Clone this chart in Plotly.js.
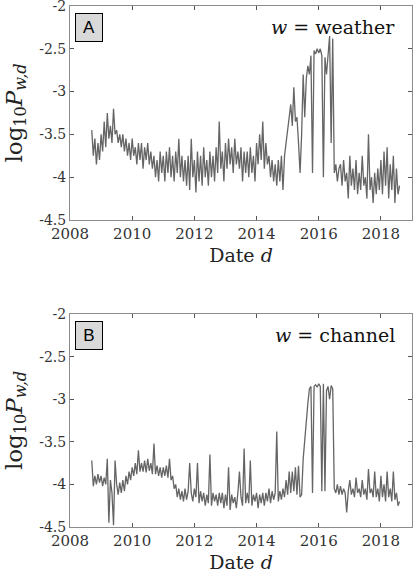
<!DOCTYPE html>
<html>
<head>
<meta charset="utf-8">
<script src="https://cdn.plot.ly/plotly-3.0.1.min.js"></script>
<style>
  html, body { margin: 0; padding: 0; background: #fff; }
  #plotArea { width: 415px; height: 580px; }
</style>
</head>
<body>
<div id="plotArea"></div>
<script>
// sampling grid: first sample (decimal year) and spacing between samples
var startYear = 2008.70;
var stepYear = 0.05;

// panel A, w = weather : log10 P values (alternating highs/lows)
var weatherVals = [
  -3.45, -3.75, -3.55, -3.85, -3.6, -3.8, -3.5, -3.7, -3.35, -3.65, -3.25, -3.55, -3.4, -3.6, -3.2, -3.5, -3.45, -3.6, -3.5, -3.65,
  -3.5, -3.7, -3.55, -3.75, -3.6, -3.8, -3.55, -3.75, -3.65, -3.85, -3.6, -3.8, -3.6, -3.9, -3.65, -3.8, -3.6, -3.85, -3.7, -3.9,
  -3.75, -4.0, -3.8, -4.05, -3.7, -3.95, -3.75, -4.05, -3.7, -3.95, -3.65, -4.0, -3.75, -4.05, -3.7, -3.95, -3.55, -4.0, -3.75, -4.05,
  -3.8, -4.1, -3.75, -4.15, -3.55, -4.0, -3.8, -4.18, -3.7, -4.05, -3.75, -4.1, -3.65, -4.0, -3.8, -4.1, -3.7, -4.0, -3.75, -4.05,
  -3.65, -3.95, -3.35, -3.9, -3.7, -4.05, -3.6, -3.9, -3.55, -3.85, -3.65, -3.95, -3.55, -3.85, -3.7, -3.9, -3.65, -4.05, -3.7, -3.95,
  -3.7, -4.0, -3.65, -3.95, -3.75, -4.05, -3.6, -3.85, -3.5, -3.8, -3.35, -3.9, -3.6, -3.85, -3.75, -4.0, -3.8, -4.05, -3.85, -4.1,
  -3.8, -4.05, -3.75, -4.15, -3.75, -3.6, -3.5, -3.35, -3.15, -3.4, -2.95, -3.35, -3.3, -3.6, -3.95, -3.5, -2.8, -3.3, -2.85, -2.7,
  -2.8, -2.58, -3.95, -2.52, -2.56, -2.5, -2.55, -2.5, -2.58, -4.0, -2.6, -2.8, -2.55, -2.35, -3.6, -2.38, -3.95, -3.85, -4.05, -3.9,
  -3.85, -4.1, -3.8, -4.05, -3.95, -4.25, -3.75, -4.1, -3.9, -4.15, -3.8, -4.2, -3.95, -4.15, -3.75, -4.1, -4.0, -4.25, -3.5, -4.15,
  -4.0, -4.3, -3.95, -4.2, -3.9, -4.15, -3.8, -4.2, -3.7, -4.1, -3.65, -4.25, -3.85, -4.15, -3.75, -4.3, -3.9, -4.2, -4.1
];

// panel B, w = channel
var channelVals = [
  -3.72, -4.02, -3.9, -4.0, -3.88, -3.98, -3.9, -4.02, -3.92, -4.0, -3.7, -4.45, -3.95, -4.1, -4.48, -3.72, -4.0, -4.12, -3.98, -4.1,
  -3.95, -4.08, -3.9, -4.0, -3.85, -3.95, -3.8, -3.9, -3.75, -3.88, -3.6, -3.85, -3.75, -3.85, -3.72, -3.86, -3.7, -3.84, -3.75, -3.88,
  -3.52, -3.88, -3.78, -3.9, -3.8, -3.92, -3.8, -3.9, -3.78, -3.92, -3.7, -3.95, -3.9, -4.05, -4.0, -4.15, -4.05, -4.18, -4.08, -4.2,
  -4.05, -4.18, -4.08, -3.75, -4.1, -4.2, -4.05, -4.15, -3.75, -4.22, -4.08, -4.2, -4.1, -4.25, -4.12, -4.22, -3.65, -4.25, -4.1, -4.2,
  -4.12, -4.25, -4.1, -4.22, -4.1, -4.28, -4.12, -4.25, -3.8, -4.3, -4.12, -4.22, -4.15, -4.28, -4.1, -3.85, -4.15, -4.25, -3.58, -4.22,
  -4.1, -4.22, -3.72, -4.25, -4.12, -4.2, -4.1, -4.28, -4.12, -4.22, -4.1, -4.25, -4.1, -4.2, -4.05, -4.22, -4.08, -4.18, -4.1, -3.38,
  -4.2, -4.08, -4.18, -4.05, -4.15, -3.95, -4.12, -3.85, -4.1, -3.85, -4.08, -3.8, -4.12, -3.78, -4.15, -4.12, -3.7, -3.45, -3.25, -3.05,
  -2.88, -2.85, -4.1, -2.85, -2.83, -2.86, -2.82, -2.85, -4.08, -2.82, -4.08, -2.9, -2.85, -3.0, -2.84, -2.88, -4.05, -4.1, -4.0, -4.12,
  -4.02, -4.12, -4.05, -4.1, -4.33, -4.08, -3.95, -4.12, -4.05, -4.15, -3.92, -4.1, -4.05, -4.15, -3.95, -4.12, -4.05, -4.18, -3.82, -4.1,
  -4.05, -4.15, -3.85, -4.15, -4.05, -4.2, -3.9, -4.15, -4.0, -4.2, -3.85, -4.15, -4.05, -4.2, -3.85, -4.18, -4.1, -4.25, -4.2
];

var xTicks = [2008, 2010, 2012, 2014, 2016, 2018];
var yTicks = [-4.5, -4, -3.5, -3, -2.5, -2];
var yTickText = ["-4.5", "-4", "-3.5", "-3", "-2.5", "-2"];

var yearsA = weatherVals.map(function(v, i) { return startYear + i * stepYear; });
var yearsB = channelVals.map(function(v, i) { return startYear + i * stepYear; });

var serif = "DejaVu Serif, serif";
var lineColor = "#656565";

var trace1 = {
  x: yearsA, y: weatherVals, type: "scatter", mode: "lines",
  line: {color: lineColor, width: 1.3}, xaxis: "x", yaxis: "y", hoverinfo: "skip"
};
var trace2 = {
  x: yearsB, y: channelVals, type: "scatter", mode: "lines",
  line: {color: lineColor, width: 1.3}, xaxis: "x2", yaxis: "y2", hoverinfo: "skip"
};

function xAx(anchor) {
  return {
    anchor: anchor, range: [2008, 2019], tickvals: xTicks, ticktext: xTicks.map(String),
    ticks: "inside", ticklen: 4, tickcolor: "#555", mirror: "ticks",
    showline: true, linecolor: "#8c8c8c", linewidth: 1, showgrid: false, zeroline: false,
    tickfont: {family: serif, size: 15, color: "#333"},
    title: {text: "Date <i>d</i>", font: {family: serif, size: 19, color: "#222"}, standoff: 6}
  };
}
function yAx(anchor, domain) {
  return {
    anchor: anchor, domain: domain, range: [-4.5, -2], tickvals: yTicks, ticktext: yTickText,
    ticks: "inside", ticklen: 4, tickcolor: "#555", mirror: "ticks", ticklabeloverflow: "allow",
    showline: true, linecolor: "#8c8c8c", linewidth: 1, showgrid: false, zeroline: false,
    tickfont: {family: serif, size: 14, color: "#333"},
    title: {text: "log<sub>10</sub><i>P</i><sub><i>w,d</i></sub>", font: {family: serif, size: 23, color: "#222"}, standoff: 10}
  };
}

function panelLabel(letter, xr, yr) {
  return {
    xref: xr + " domain", yref: yr + " domain", x: 0.0556, y: 0.9, xanchor: "center", yanchor: "middle",
    text: letter, showarrow: false, font: {family: "Liberation Sans, sans-serif", size: 17, color: "#000"},
    bgcolor: "#d9d9d9", bordercolor: "#000", borderwidth: 1, width: 24, height: 25
  };
}
function wordLabel(word, xr, yr) {
  return {
    xref: xr + " domain", yref: yr + " domain", x: 0.956, y: 0.9, xanchor: "right", yanchor: "middle",
    text: "<i>w</i> = " + word, showarrow: false, font: {family: serif, size: 19, color: "#111"}
  };
}

var layout = {
  width: 415, height: 580,
  margin: {l: 70, r: 3, t: 6, b: 53},
  paper_bgcolor: "#fff", plot_bgcolor: "#fff",
  showlegend: false,
  xaxis: xAx("y"),
  yaxis: yAx("x", [0.5893, 1]),
  xaxis2: xAx("y2"),
  yaxis2: yAx("x2", [0, 0.4088]),
  annotations: [
    panelLabel("A", "x", "y"), wordLabel("weather", "x", "y"),
    panelLabel("B", "x2", "y2"), wordLabel("channel", "x2", "y2")
  ]
};

Plotly.newPlot("plotArea", [trace1, trace2], layout, {staticPlot: true, displayModeBar: false});
</script>
</body>
</html>
